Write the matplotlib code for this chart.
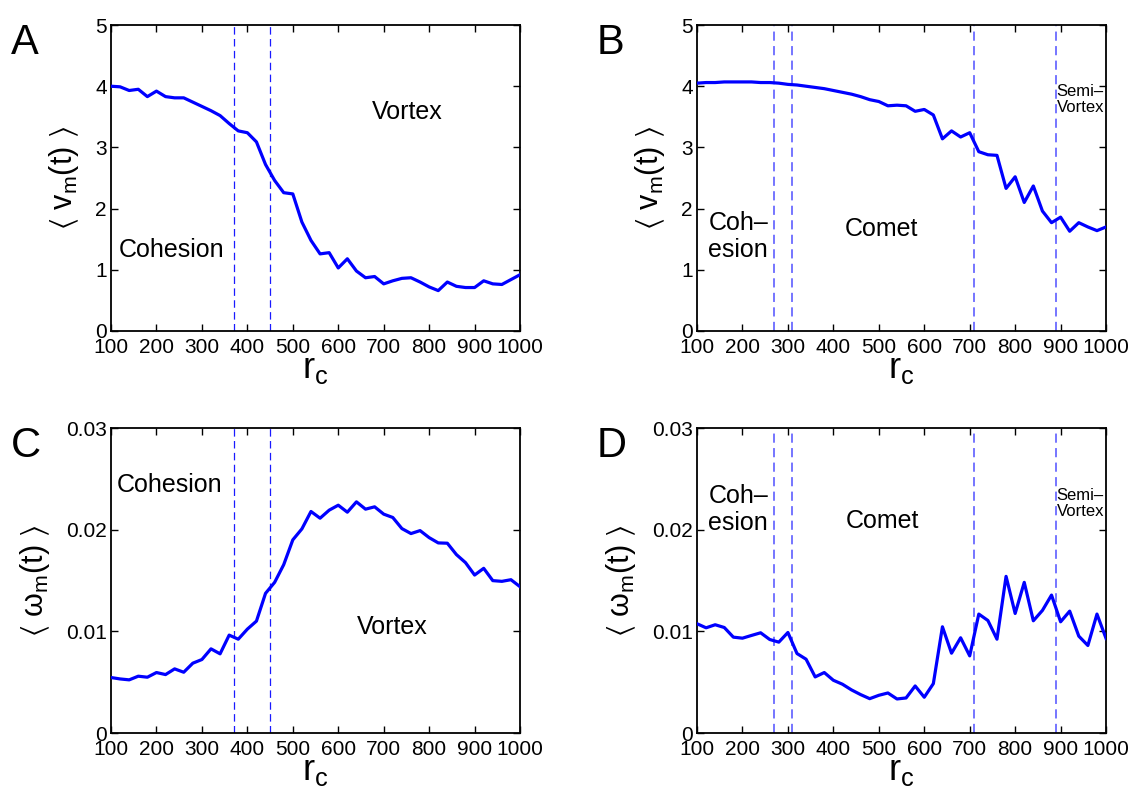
import numpy as np
from matplotlib import pyplot as plt

plt.rcParams['font.family'] = ['Liberation Sans', 'DejaVu Sans']
plt.rcParams['mathtext.fontset'] = 'custom'
plt.rcParams['mathtext.rm'] = 'Liberation Sans'
plt.rcParams['mathtext.it'] = 'Liberation Sans'
plt.rcParams['mathtext.fallback'] = 'stixsans'

# r_c sampled every 20 from 100 to 1000
r_c = list(range(100, 1001, 20))

# panel A: <v_m(t)>, vortex regime
v_a = [4.00, 3.99, 3.93, 3.95, 3.83, 3.92, 3.83, 3.81, 3.81, 3.74,
       3.67, 3.60, 3.52, 3.39, 3.27, 3.24, 3.09, 2.72, 2.46, 2.26,
       2.24, 1.78, 1.48, 1.26, 1.28, 1.03, 1.18, 0.98, 0.87, 0.89,
       0.77, 0.82, 0.86, 0.87, 0.80, 0.72, 0.66, 0.80, 0.73, 0.71,
       0.71, 0.82, 0.77, 0.76, 0.84, 0.92]

# panel B: <v_m(t)>, comet regime
v_b = [4.05, 4.06, 4.06, 4.07, 4.07, 4.07, 4.07, 4.06, 4.06, 4.05,
       4.03, 4.02, 4.00, 3.98, 3.96, 3.93, 3.90, 3.87, 3.83, 3.78,
       3.75, 3.68, 3.69, 3.68, 3.59, 3.62, 3.53, 3.14, 3.27, 3.17,
       3.24, 2.93, 2.88, 2.87, 2.33, 2.52, 2.10, 2.37, 1.96, 1.77,
       1.86, 1.63, 1.77, 1.70, 1.64, 1.70]

# panel C: <omega_m(t)>, vortex regime
w_c = [0.00546, 0.00532, 0.00523, 0.00559, 0.00549, 0.00595, 0.00575, 0.00631, 0.00598, 0.00687,
       0.00723, 0.00828, 0.00779, 0.00963, 0.00923, 0.01022, 0.01101, 0.01374, 0.01482, 0.01656,
       0.01900, 0.02008, 0.02179, 0.02113, 0.02192, 0.02241, 0.02172, 0.02274, 0.02202, 0.02225,
       0.02153, 0.02120, 0.02011, 0.01962, 0.01991, 0.01922, 0.01870, 0.01867, 0.01755, 0.01676,
       0.01554, 0.01620, 0.01499, 0.01492, 0.01508, 0.01439]

# panel D: <omega_m(t)>, comet regime
w_d = [0.01075, 0.01035, 0.01065, 0.01038, 0.00943, 0.00933, 0.00960, 0.00986, 0.00920, 0.00894,
       0.00989, 0.00782, 0.00726, 0.00552, 0.00595, 0.00519, 0.00480, 0.00424, 0.00378, 0.00338,
       0.00371, 0.00394, 0.00335, 0.00345, 0.00463, 0.00352, 0.00486, 0.01045, 0.00785, 0.00937,
       0.00759, 0.01170, 0.01107, 0.00923, 0.01541, 0.01176, 0.01482, 0.01104, 0.01206, 0.01357,
       0.01094, 0.01199, 0.00953, 0.00861, 0.01170, 0.00930]

# regime boundaries
bounds_vortex = [370, 450]
bounds_comet = [270, 310, 710, 890]

fig = plt.figure(figsize=(11.35, 8.02), dpi=100)

W = 0.3604
positions = {
    'A': [0.0978, 0.5873, W, 0.3815],
    'B': [0.6141, 0.5873, W, 0.3815],
    'C': [0.0978, 0.0860, W, 0.3803],
    'D': [0.6141, 0.0860, W, 0.3803],
}

vlabel = r'$\langle\ \mathrm{v_m(t)}\ \rangle$'
wlabel = r'$\langle\ \mathrm{\omega_m(t)}\ \rangle$'


def setup(ax, ylim, yticks, yticklabels, ylabel, letter):
    ax.set_xlim(100, 1000)
    ax.set_ylim(*ylim)
    ax.set_xticks(range(100, 1001, 100))
    ax.set_yticks(yticks)
    ax.set_yticklabels(yticklabels)
    ax.tick_params(direction='in', top=True, right=True, length=5, width=1,
                   labelsize=15, pad=3)
    ax.tick_params(axis='x', pad=5)
    for s in ax.spines.values():
        s.set_linewidth(1.3)
    ax.set_xlabel(r'$\mathrm{r_c}$', fontsize=26, labelpad=-4)
    ax.set_ylabel(ylabel, fontsize=22, labelpad=10)
    pos = ax.get_position()
    fig.text(pos.x0 - 0.088, pos.y1 + 0.003, letter, fontsize=30, va='top', ha='left')


def vlines(ax, xs, color, lw):
    for x in xs:
        ax.axvline(x, color=color, lw=lw, dashes=(6, 3.5), zorder=1)


# A
ax = fig.add_axes(positions['A'])
vlines(ax, bounds_vortex, '#1a1aff', 0.9)
ax.plot(r_c, v_a, color='#0000ff', lw=2.3, zorder=3)
setup(ax, (0, 5), range(6), [str(i) for i in range(6)], vlabel, 'A')
ax.text(118, 1.33, 'Cohesion', fontsize=18, va='center')
ax.text(674, 3.58, 'Vortex', fontsize=18, va='center')

# B
ax = fig.add_axes(positions['B'])
vlines(ax, bounds_comet, '#5050ff', 1.1)
ax.plot(r_c, v_b, color='#0000ff', lw=2.3, zorder=3)
setup(ax, (0, 5), range(6), [str(i) for i in range(6)], vlabel, 'B')
ax.text(125, 1.54, 'Coh\u2013\nesion', fontsize=18, va='center', linespacing=1.15)
ax.text(426, 1.66, 'Comet', fontsize=18, va='center')
ax.text(891, 3.78, 'Semi\u2013\nVortex', fontsize=12, va='center', linespacing=1.05)

wticks = [0, 0.01, 0.02, 0.03]
wticklabels = ['0', '0.01', '0.02', '0.03']

# C
ax = fig.add_axes(positions['C'])
vlines(ax, bounds_vortex, '#1a1aff', 0.9)
ax.plot(r_c, w_c, color='#0000ff', lw=2.3, zorder=3)
setup(ax, (0, 0.03), wticks, wticklabels, wlabel, 'C')
ax.text(113, 0.0244, 'Cohesion', fontsize=18, va='center')
ax.text(641, 0.01045, 'Vortex', fontsize=18, va='center')

# D
ax = fig.add_axes(positions['D'])
vlines(ax, bounds_comet, '#5050ff', 1.1)
ax.plot(r_c, w_d, color='#0000ff', lw=2.3, zorder=3)
setup(ax, (0, 0.03), wticks, wticklabels, wlabel, 'D')
ax.text(125, 0.0220, 'Coh\u2013\nesion', fontsize=18, va='center', linespacing=1.15)
ax.text(428, 0.0209, 'Comet', fontsize=18, va='center')
ax.text(891, 0.02255, 'Semi\u2013\nVortex', fontsize=12, va='center', linespacing=1.05)

plt.savefig('out.png', dpi=100)
